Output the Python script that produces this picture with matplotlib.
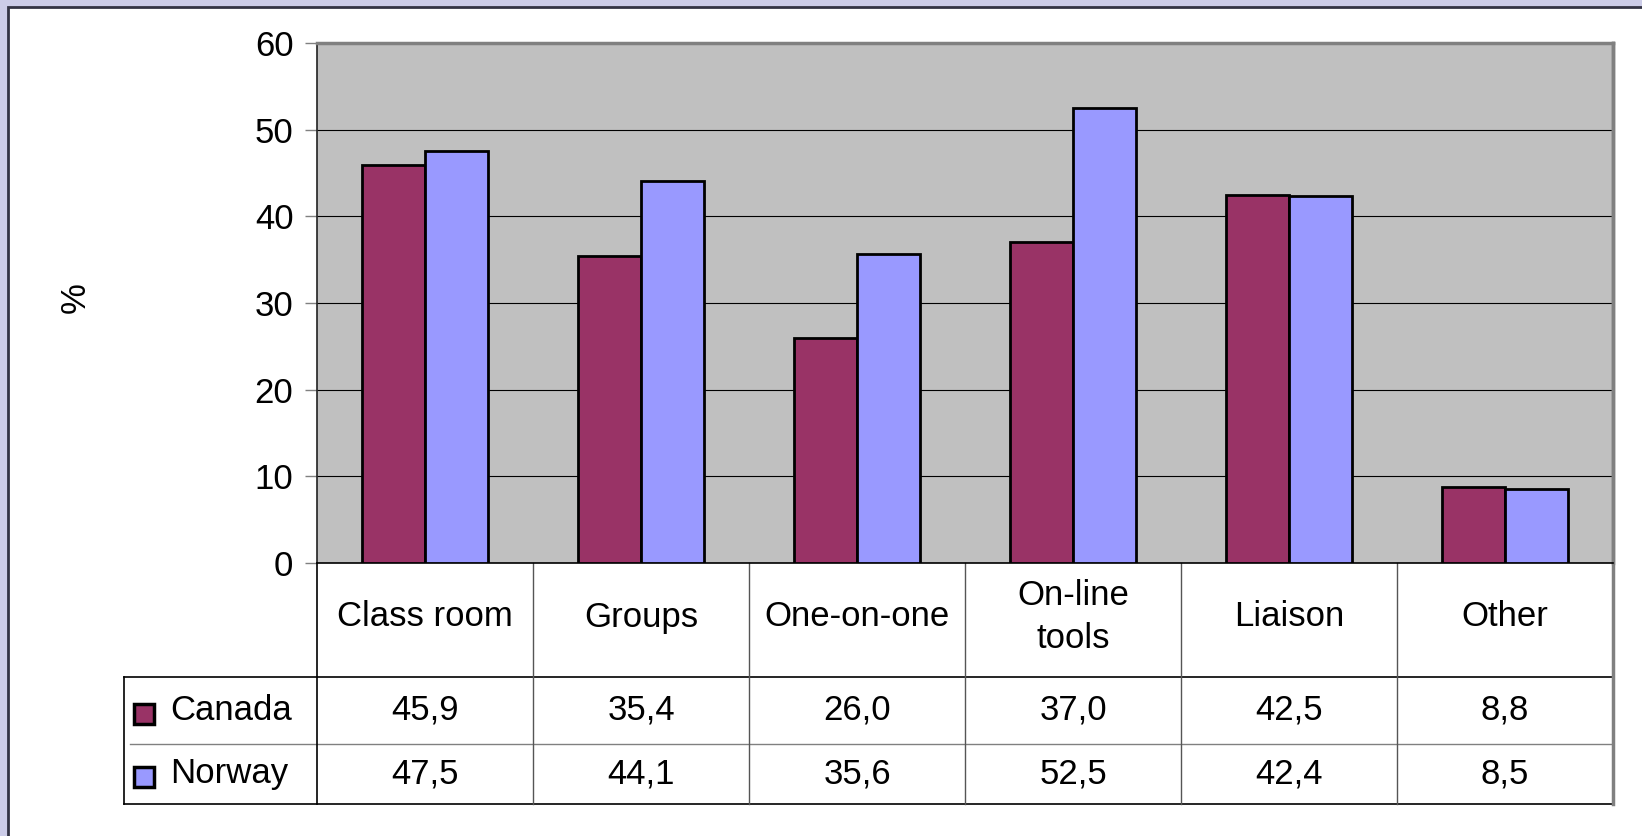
import matplotlib
matplotlib.use('Agg')
import matplotlib.pyplot as plt
from matplotlib.patches import Rectangle
from matplotlib.lines import Line2D
import numpy as np

plt.rcParams['font.family'] = ['Liberation Sans', 'DejaVu Sans']

# Data
categories = ['Class room', 'Groups', 'One-on-one', 'On-line\ntools', 'Liaison', 'Other']
canada = [45.9, 35.4, 26.0, 37.0, 42.5, 8.8]
norway = [47.5, 44.1, 35.6, 52.5, 42.4, 8.5]
series_names = ['Canada', 'Norway']
yticks = [0, 10, 20, 30, 40, 50, 60]

COLOR_CANADA = '#993366'
COLOR_NORWAY = '#9999FF'
BG = '#CCCCE8'
FS = 25

W, H = 1642, 836
fig = plt.figure(figsize=(W / 100, H / 100), dpi=100)
fig.patch.set_facecolor(BG)

# white panel with dark left/top border
fig.patches.append(Rectangle((8 / W, -0.01), 1, 1.01 - 7 / H, transform=fig.transFigure,
                             facecolor='white', edgecolor='#333344', linewidth=2, zorder=-5))

# plot area in pixels
L, R, T, B = 317, 1613, 43, 563
ax = fig.add_axes([L / W, 1 - B / H, (R - L) / W, (B - T) / H])
ax.set_facecolor('#C0C0C0')

x = np.arange(len(categories))
bw = 0.29
ax.bar(x - bw / 2, canada, bw, color=COLOR_CANADA, edgecolor='black', linewidth=2, zorder=3)
ax.bar(x + bw / 2, norway, bw, color=COLOR_NORWAY, edgecolor='black', linewidth=2, zorder=3)

ax.set_xlim(-0.5, len(categories) - 0.5)
ax.set_ylim(0, 60)
ax.set_yticks(yticks)
ax.set_yticklabels([str(t) for t in yticks], fontsize=FS)
ax.set_xticks([])
ax.tick_params(axis='y', length=9, width=1, color='#808080', pad=8)
ax.yaxis.grid(True, color='black', linewidth=0.8)
ax.set_axisbelow(True)

for s in ['top', 'right']:
    ax.spines[s].set_color('#808080')
    ax.spines[s].set_linewidth(2.5)
ax.spines['left'].set_color('#222222')
ax.spines['left'].set_linewidth(1.2)
ax.spines['bottom'].set_color('black')
ax.spines['bottom'].set_linewidth(1.2)

fig.text(75 / W, 1 - 298 / H, '%', rotation=90, fontsize=FS, ha='center', va='center')

# data table below the axes
tr = ax.get_xaxis_transform()
def ypx(p):
    return (B - p) / (B - T)

y_head, y_r1, y_r2 = 677, 744, 804
x_left = (124 - L) / ((R - L) / len(categories)) - 0.5
x_right = len(categories) - 0.5

def hline(xa, xb, yp, color='black', lw=1.2):
    ax.add_line(Line2D([xa, xb], [ypx(yp), ypx(yp)], transform=tr, color=color,
                       linewidth=lw, clip_on=False))

def vline(xv, ya, yb, color='black', lw=1.2):
    ax.add_line(Line2D([xv, xv], [ypx(ya), ypx(yb)], transform=tr, color=color,
                       linewidth=lw, clip_on=False))

hline(x_left, x_right, y_head)
hline(x_left + 0.03, x_right, y_r1, color='#808080', lw=1.0)
hline(x_left, x_right, y_r2)
vline(x_left, y_head, y_r2)
vline(-0.5, B, y_r2)
for i in range(1, len(categories)):
    vline(i - 0.5, B, y_r2, color='#555555', lw=1.0)
vline(x_right, T, y_r2, color='#808080', lw=2.5)

for i, c in enumerate(categories):
    ax.text(i, ypx((B + y_head) / 2 - 3), c, transform=tr, ha='center', va='center',
            fontsize=FS, linespacing=1.4, clip_on=False)
    ax.text(i, ypx((y_head + y_r1) / 2), f'{canada[i]:.1f}'.replace('.', ','), transform=tr,
            ha='center', va='center', fontsize=FS, clip_on=False)
    ax.text(i, ypx((y_r1 + y_r2) / 2), f'{norway[i]:.1f}'.replace('.', ','), transform=tr,
            ha='center', va='center', fontsize=FS, clip_on=False)

# legend keys inside the table
for name, color, (ya, yb) in zip(series_names, [COLOR_CANADA, COLOR_NORWAY],
                                 [(y_head, y_r1), (y_r1, y_r2)]):
    yc = (ya + yb) / 2 + 3
    fig.patches.append(Rectangle((134 / W, 1 - (yc + 10) / H), 20 / W, 20 / H,
                                 transform=fig.transFigure, facecolor=color,
                                 edgecolor='black', linewidth=2.5, zorder=5))
    fig.text(170 / W, 1 - ((ya + yb) / 2) / H, name, fontsize=FS, ha='left', va='center')

fig.savefig('out.png', dpi=100, facecolor=fig.get_facecolor())
